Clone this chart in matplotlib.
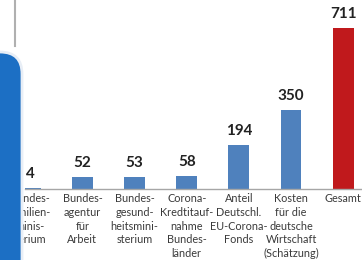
import matplotlib
matplotlib.use("Agg")
import matplotlib.pyplot as plt
from matplotlib.patches import FancyBboxPatch

# Kosten in Mrd. Euro
categories = [
    "Bundes-\nfamilien-\nminis-\nterium",
    "Bundes-\nagentur\nfür\nArbeit",
    "Bundes-\ngesund-\nheitsmini-\nsterium",
    "Corona-\nKredtitauf-\nnahme\nBundes-\nländer",
    "Anteil\nDeutschl.\nEU-Corona-\nFonds",
    "Kosten\nfür die\ndeutsche\nWirtschaft\n(Schätzung)",
    "Gesamt",
]
values = [4, 52, 53, 58, 194, 350, 711]
colors = ["#4f81bd"] * 6 + ["#c0191c"]

W, H = 362, 260
fig = plt.figure(figsize=(W / 100, H / 100), dpi=100)
fig.patch.set_facecolor("white")

ax = fig.add_axes([25 / W, 71 / H, (W - 25) / W, 189 / H], zorder=1)
ax.patch.set_alpha(0)
x = range(len(values))
bars = ax.bar(x, values, width=0.4, color=colors)
ax.set_xlim(-0.1, 6.36)
ax.set_ylim(0, 834)

for b, v in zip(bars, values):
    ax.annotate(str(v), (b.get_x() + b.get_width() / 2, v), xytext=(0, 5),
                textcoords="offset points", ha="center", va="bottom",
                fontsize=11, fontweight="bold", color="#222222", family="Lato")

ax.set_xticks(list(x))
ax.set_xticklabels(categories, fontsize=7.8, color="#3a3a3a", family="Lato",
                   linespacing=1.3, va="top")
ax.tick_params(axis="x", length=0, pad=3)
ax.set_yticks([])
for s in ["top", "right", "left"]:
    ax.spines[s].set_visible(False)
ax.spines["bottom"].set_color("#a6a6a6")
ax.spines["bottom"].set_linewidth(1)

# decoration layer on top (pixel coords)
deco = fig.add_axes([0, 0, 1, 1], zorder=2)
deco.patch.set_alpha(0)
deco.set_xlim(0, W)
deco.set_ylim(H, 0)
deco.axis("off")
deco.plot([15, 15], [0, 46], color="#b0b0b0", lw=1.5)
deco.add_patch(FancyBboxPatch((-30, 52), 52, 260, boxstyle="round,pad=0,rounding_size=22",
                              fc="#1c6fc4", ec="#e8eef6", lw=2))

fig.savefig("out.png", dpi=100)
